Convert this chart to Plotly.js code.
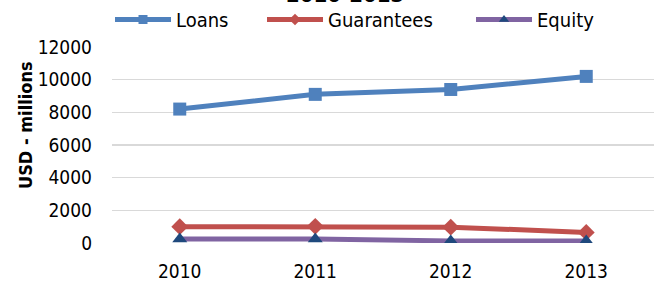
<!DOCTYPE html>
<html><head><meta charset="utf-8">
<script src="https://cdn.plot.ly/plotly-3.0.1.min.js"></script>
<style>body{margin:0;background:#fff}#c{width:657px;height:286px}</style>
</head><body><div id="c"></div>
<script>
const years = ['2010','2011','2012','2013'];
const loans = [8200, 9100, 9400, 10200];
const guarantees = [1000, 1020, 970, 650];
const equity = [250, 240, 130, 120];
const yTicks = [0,2000,4000,6000,8000,10000,12000];
const seriesNames = ['Loans', 'Guarantees', 'Equity'];
const titleText = '2010-2013';
const yTitle = 'USD - millions';

const F = 'DejaVu Sans Condensed, Tahoma, sans-serif';
const colors = ['#4F81BD', '#C0504D', '#8064A2'];
const mColors = ['#4F81BD', '#C0504D', '#1F497D'];
const symbols = ['square', 'diamond', 'triangle-up'];
const seriesData = [loans, guarantees, equity];
const legends = ['legend', 'legend2', 'legend3'];

const traces = [];
seriesData.forEach((ys, i) => {
  traces.push({x: years, y: ys, name: seriesNames[i], mode: 'lines+markers', showlegend: false,
    line: {color: colors[i], width: 5}, marker: {symbol: symbols[i], size: 13, color: mColors[i]}});
});
// legend entries (no data points drawn)
seriesData.forEach((ys, i) => {
  traces.push({x: [null], y: [null], name: seriesNames[i], mode: 'lines+markers', legend: legends[i],
    line: {color: colors[i], width: 5}, marker: {symbol: symbols[i], size: 9, color: mColors[i]}});
});

const legBase = {orientation: 'h', xref: 'container', yref: 'container', y: 1, yanchor: 'top', xanchor: 'left',
  font: {family: F, size: 20, color: '#000'}, itemwidth: 56, bgcolor: 'rgba(0,0,0,0)', borderwidth: 0};
const layout = {
  width: 657, height: 286,
  margin: {l: 112, r: 3, t: 47, b: 43},
  paper_bgcolor: '#fff', plot_bgcolor: '#fff',
  font: {family: F, size: 19, color: '#000'},
  showlegend: true,
  legend: Object.assign({}, legBase, {x: 110/657}),
  legend2: Object.assign({}, legBase, {x: 262/657}),
  legend3: Object.assign({}, legBase, {x: 471/657}),
  xaxis: {type: 'category', range: [-0.5, 3.5], showgrid: false, showline: false, zeroline: false,
          ticks: '', ticklabelstandoff: 15, tickfont: {family: F, size: 19, color: '#000'}},
  yaxis: {range: [0, 12000], tickvals: yTicks, ticktext: yTicks.map(String),
          showgrid: true, gridcolor: '#D9D9D9', gridwidth: 1.5, zeroline: false, showline: false,
          ticks: '', ticklabelstandoff: 19,
          tickfont: {family: F, size: 19, color: '#000'}},
  annotations: [
    {text: '<b>' + titleText + '</b>', xref: 'paper', yref: 'paper',
     x: (345-112)/542, y: 1, yshift: 53, xanchor: 'center', yanchor: 'middle', showarrow: false,
     font: {family: F, size: 22, color: '#000'}},
    {text: '<b>' + yTitle + '</b>', xref: 'paper', yref: 'paper', textangle: -90,
     x: 0, xshift: -87, y: (243-125)/196, xanchor: 'center', yanchor: 'middle', showarrow: false,
     font: {family: F, size: 18, color: '#000'}}
  ]
};
Plotly.newPlot('c', traces, layout, {displayModeBar: false, staticPlot: true});
</script></body></html>
